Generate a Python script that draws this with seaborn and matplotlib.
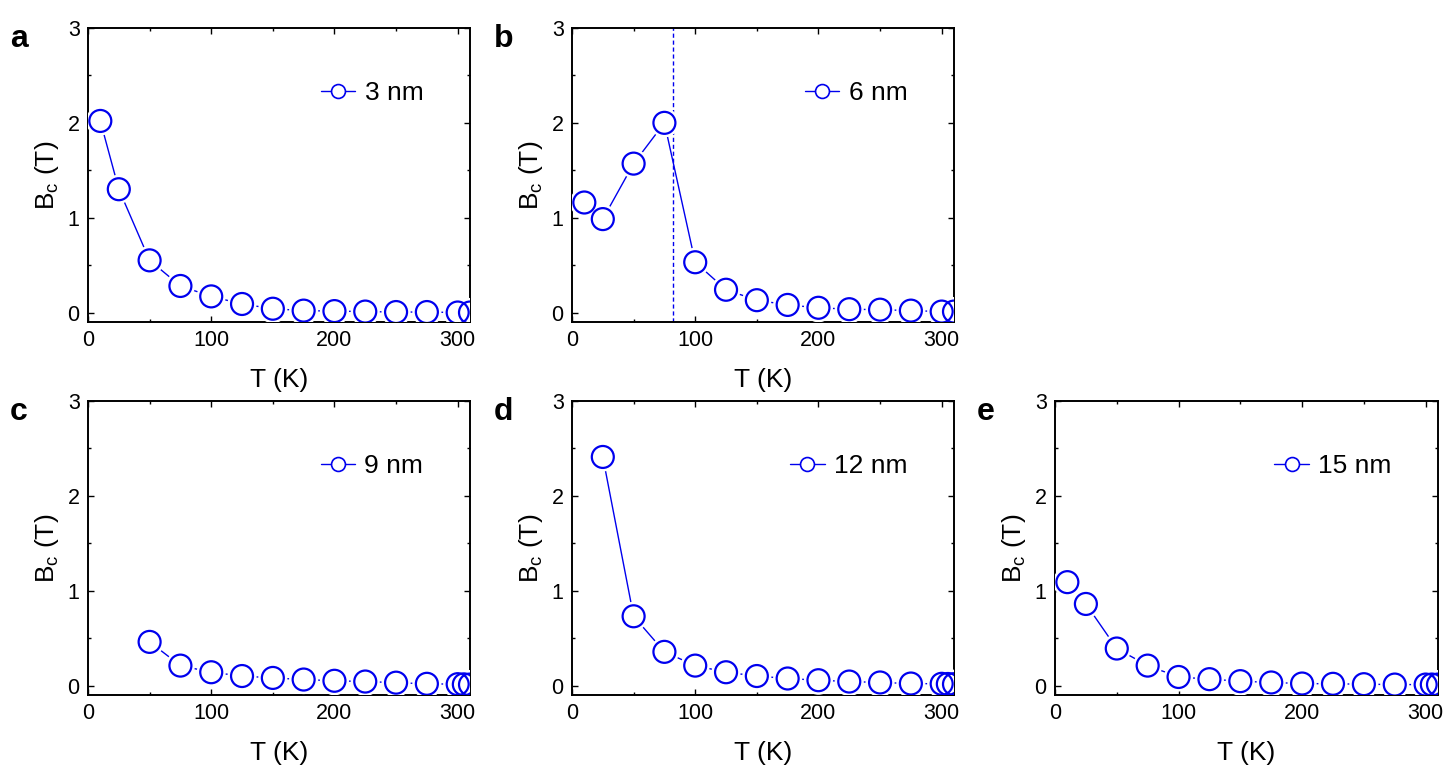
import matplotlib
matplotlib.use("Agg")
import matplotlib.pyplot as plt
import seaborn as sns
import pandas as pd
from matplotlib.lines import Line2D
from matplotlib.ticker import MultipleLocator

sns.set_theme(style="ticks")
plt.rcParams['font.family'] = ['Liberation Sans', 'DejaVu Sans']
plt.rcParams['text.color'] = 'black'
plt.rcParams['axes.labelcolor'] = 'black'
plt.rcParams['xtick.color'] = 'black'
plt.rcParams['ytick.color'] = 'black'

# ---- data ----
T_a = [10, 25, 50, 75, 100, 125, 150, 175, 200, 225, 250, 275, 300, 310]
B_a = [2.02, 1.30, 0.55, 0.28, 0.17, 0.09, 0.04, 0.02, 0.015, 0.01, 0.005, 0.005, 0.0, 0.0]

T_b = [10, 25, 50, 75, 100, 125, 150, 175, 200, 225, 250, 275, 300, 310]
B_b = [1.16, 0.985, 1.57, 2.0, 0.53, 0.24, 0.13, 0.08, 0.05, 0.035, 0.03, 0.02, 0.01, 0.01]
vline_b = 82

T_c = [50, 75, 100, 125, 150, 175, 200, 225, 250, 275, 300, 305, 310]
B_c = [0.46, 0.21, 0.14, 0.10, 0.08, 0.063, 0.05, 0.042, 0.03, 0.018, 0.014, 0.012, 0.01]

T_d = [25, 50, 75, 100, 125, 150, 175, 200, 225, 250, 275, 300, 305, 310]
B_d = [2.41, 0.73, 0.355, 0.21, 0.14, 0.10, 0.074, 0.056, 0.042, 0.032, 0.021, 0.018, 0.016, 0.014]

T_e = [10, 25, 50, 75, 100, 125, 150, 175, 200, 225, 250, 275, 300, 305, 310]
B_e = [1.09, 0.86, 0.39, 0.21, 0.09, 0.067, 0.046, 0.032, 0.021, 0.018, 0.014, 0.01, 0.01, 0.01, 0.01]

labels = ["3 nm", "6 nm", "9 nm", "12 nm", "15 nm"]
letters = ["a", "b", "c", "d", "e"]

W, H = 1447, 765
fig = plt.figure(figsize=(W / 100, H / 100), dpi=100)
fig.patch.set_facecolor("white")

boxes = [(88, 470, 28, 322), (572, 954, 28, 322),
         (88, 470, 401, 695), (572, 954, 401, 695), (1055, 1438, 401, 695)]
datasets = [(T_a, B_a), (T_b, B_b), (T_c, B_c), (T_d, B_d), (T_e, B_e)]
blue = "#0000ee"

for i, ((l, r, t, b), (T, B)) in enumerate(zip(boxes, datasets)):
    ax = fig.add_axes([l / W, 1 - b / H, (r - l) / W, (b - t) / H])
    ax.set_facecolor("white")
    df = pd.DataFrame({"T": T, "B": B})
    sns.lineplot(data=df, x="T", y="B", ax=ax, color=blue, lw=1.0,
                 sort=False, estimator=None, zorder=2)
    sns.scatterplot(data=df, x="T", y="B", ax=ax, s=440, color="white",
                    edgecolor="none", linewidth=0, zorder=3)
    sns.scatterplot(data=df, x="T", y="B", ax=ax, s=250, facecolor="none",
                    edgecolor=blue, linewidth=1.6, zorder=4, marker="o")
    if i == 1:
        ax.axvline(vline_b, color=blue, ls=(0, (3, 2)), lw=1.0, zorder=1)
    ax.set_xlim(0, 310)
    ax.set_ylim(-0.1, 3)
    ax.xaxis.set_major_locator(MultipleLocator(100))
    ax.xaxis.set_minor_locator(MultipleLocator(50))
    ax.yaxis.set_major_locator(MultipleLocator(1))
    ax.yaxis.set_minor_locator(MultipleLocator(0.5))
    ax.tick_params(which="both", direction="in", top=True, right=True,
                   colors="black", labelsize=15.5, width=1.0)
    ax.tick_params(which="major", length=4, pad=6)
    ax.tick_params(which="minor", length=2.5)
    for sp in ax.spines.values():
        sp.set_color("black")
        sp.set_linewidth(1.4)
    ax.set_xlabel("T (K)", fontsize=19, labelpad=12)
    ax.set_ylabel(r"B$_\mathregular{c}$ (T)", fontsize=19, labelpad=5)
    h = Line2D([], [], color=blue, lw=1.0, marker="o", markersize=10,
               markerfacecolor="white", markeredgecolor=blue, markeredgewidth=1.2)
    ax.legend([h], [labels[i]], loc="upper right", bbox_to_anchor=(0.94, 0.90),
              frameon=False, fontsize=19, handlelength=1.3, handletextpad=0.35)
    fig.text((l - 78) / W, 1 - (t - 4) / H, letters[i], fontsize=23,
             fontweight="bold", va="top", ha="left")

fig.savefig("out.png", dpi=100, facecolor="white")
